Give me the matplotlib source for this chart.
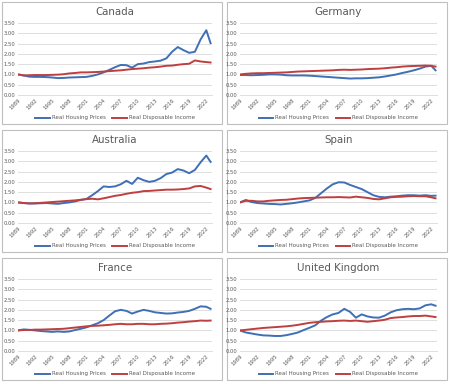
import matplotlib.pyplot as plt
from matplotlib.patches import Rectangle

years = list(range(1989, 2023)) + [2022.75]
tick_years = list(range(1989, 2023, 3))

canada_house = [1.00, 0.95, 0.89, 0.88, 0.88, 0.87, 0.85, 0.82, 0.83, 0.85, 0.86, 0.87, 0.88, 0.93, 1.00, 1.10, 1.22,
                1.35, 1.46, 1.45, 1.33, 1.50, 1.53, 1.60, 1.63, 1.67, 1.78, 2.10, 2.33, 2.18, 2.05, 2.10, 2.70, 3.15, 2.52]
canada_income = [1.00, 0.95, 0.96, 0.97, 0.97, 0.97, 0.98, 0.99, 1.01, 1.05, 1.07, 1.10, 1.10, 1.11, 1.12, 1.14, 1.16,
                 1.18, 1.20, 1.23, 1.26, 1.28, 1.30, 1.33, 1.35, 1.38, 1.42, 1.43, 1.47, 1.50, 1.52, 1.68, 1.63, 1.60, 1.58]

germany_house = [0.97, 0.97, 0.96, 0.97, 0.98, 1.00, 1.00, 0.99, 0.96, 0.95, 0.95, 0.95, 0.94, 0.92, 0.90, 0.88, 0.86,
                 0.84, 0.82, 0.80, 0.81, 0.81, 0.82, 0.84, 0.86, 0.90, 0.95, 1.00, 1.07, 1.13, 1.20, 1.28, 1.38, 1.42, 1.20]
germany_income = [1.00, 1.03, 1.05, 1.06, 1.06, 1.07, 1.08, 1.09, 1.10, 1.12, 1.14, 1.15, 1.16, 1.17, 1.18, 1.19, 1.20,
                  1.22, 1.23, 1.22, 1.23, 1.24, 1.26, 1.27, 1.28, 1.30, 1.33, 1.35, 1.38, 1.40, 1.41, 1.42, 1.43, 1.42, 1.38]

australia_house = [1.00, 0.97, 0.95, 0.95, 0.96, 0.97, 0.95, 0.93, 0.97, 1.00, 1.05, 1.12, 1.17, 1.35, 1.55, 1.78, 1.75,
                   1.78, 1.88, 2.05, 1.90, 2.20, 2.08, 2.00, 2.05, 2.18, 2.38, 2.45, 2.62, 2.55, 2.42, 2.58, 2.95, 3.28, 2.97]
australia_income = [1.00, 0.97, 0.95, 0.96, 0.98, 1.00, 1.02, 1.04, 1.06, 1.08, 1.10, 1.13, 1.16, 1.18, 1.15, 1.20, 1.26,
                    1.32, 1.36, 1.42, 1.47, 1.50, 1.55, 1.56, 1.58, 1.60, 1.62, 1.62, 1.63, 1.65, 1.68, 1.78, 1.80, 1.72,
                    1.65]

spain_house = [1.00, 1.12, 1.02, 0.97, 0.95, 0.93, 0.92, 0.90, 0.93, 0.96, 1.00, 1.05, 1.10, 1.22, 1.45, 1.68, 1.88,
               1.98, 1.97, 1.85, 1.75, 1.65, 1.50, 1.35, 1.27, 1.25, 1.28, 1.30, 1.33, 1.35, 1.35, 1.33, 1.35, 1.32, 1.33]
spain_income = [1.00, 1.08, 1.08, 1.05, 1.05, 1.08, 1.10, 1.12, 1.13, 1.16, 1.19, 1.21, 1.22, 1.23, 1.24, 1.25, 1.25,
                1.26, 1.25, 1.24, 1.28, 1.25, 1.22, 1.17, 1.15, 1.20, 1.25, 1.27, 1.28, 1.30, 1.31, 1.30, 1.30, 1.25, 1.20]

france_house = [1.00, 1.05, 1.03, 1.00, 0.97, 0.95, 0.93, 0.95, 0.93, 0.95, 1.02, 1.08, 1.15, 1.25, 1.35, 1.50, 1.72,
                1.93, 2.00, 1.95, 1.82, 1.92, 2.00, 1.95, 1.88, 1.85, 1.82, 1.83, 1.87, 1.90, 1.95, 2.05, 2.17, 2.15, 2.05]
france_income = [1.00, 1.02, 1.02, 1.04, 1.04, 1.05, 1.06, 1.07, 1.08, 1.11, 1.14, 1.17, 1.20, 1.22, 1.23, 1.25, 1.27,
                 1.30, 1.32, 1.30, 1.30, 1.32, 1.32, 1.30, 1.30, 1.32, 1.33, 1.35, 1.38, 1.40, 1.43, 1.45, 1.48, 1.47, 1.48]

uk_house = [1.00, 0.90, 0.85, 0.80, 0.76, 0.75, 0.73, 0.73, 0.77, 0.83, 0.90, 1.02, 1.13, 1.25, 1.48, 1.65, 1.78,
            1.85, 2.05, 1.90, 1.62, 1.78, 1.68, 1.63, 1.62, 1.72, 1.88, 1.98, 2.03, 2.05, 2.03, 2.07, 2.22, 2.27, 2.20]
uk_income = [1.00, 1.03, 1.06, 1.09, 1.12, 1.14, 1.16, 1.18, 1.20, 1.23, 1.27, 1.32, 1.37, 1.40, 1.42, 1.44, 1.45,
             1.47, 1.48, 1.46, 1.48, 1.45, 1.42, 1.45, 1.48, 1.52, 1.60, 1.63, 1.65, 1.68, 1.70, 1.70, 1.72, 1.68, 1.65]

countries = ['Canada', 'Germany', 'Australia', 'Spain', 'France', 'United Kingdom']
house = [canada_house, germany_house, australia_house, spain_house, france_house, uk_house]
income = [canada_income, germany_income, australia_income, spain_income, france_income, uk_income]

W, H = 450, 384
BLUE = '#3F6FB6'
RED = '#BF3F3F'
GREY = '#595959'

fig = plt.figure(figsize=(W / 100, H / 100), dpi=100)

for i, name in enumerate(countries):
    row, col = divmod(i, 2)
    # panel frame (pixels)
    px0 = 2 if col == 0 else 227
    py0 = 2 + row * 128
    fig.patches.append(Rectangle((px0 / W, 1 - (py0 + 122) / H), 220 / W, 122 / H,
                                 transform=fig.transFigure, facecolor='white',
                                 edgecolor='#bfbfbf', lw=0.8, zorder=-5))
    left = 18 if col == 0 else 240
    right = 212 if col == 0 else 437
    top = 23 + row * 128
    bottom = 95 + row * 128
    ax = fig.add_axes([left / W, 1 - bottom / H, (right - left) / W, (bottom - top) / H])
    ax.set_zorder(2)
    ax.set_facecolor('none')

    ax.plot(years, house[i], color=BLUE, lw=1.4, label='Real Housing Prices')
    ax.plot(years, income[i], color=RED, lw=1.4, label='Real Disposable Income')

    ax.set_xlim(1989, 2023)
    ax.set_ylim(0, 3.5)
    ax.set_yticks([0.5 * k for k in range(8)])
    ax.set_yticklabels([f'{0.5 * k:.2f}' for k in range(8)])
    ax.set_xticks(tick_years)
    ax.set_xticklabels([str(y) for y in tick_years], rotation=45, ha='right', rotation_mode='anchor')
    ax.tick_params(length=0, labelsize=3.8, colors=GREY, pad=2)
    ax.grid(axis='y', color='#d9d9d9', lw=0.6)
    ax.set_axisbelow(True)
    for s in ['top', 'right', 'left']:
        ax.spines[s].set_visible(False)
    ax.spines['bottom'].set_color('#d9d9d9')
    ax.spines['bottom'].set_linewidth(0.6)

    ax.text(0.5, 1 + 11 / 72, name, transform=ax.transAxes, ha='center', va='center',
            fontsize=7.4, color=GREY)
    ax.legend(loc='center', bbox_to_anchor=(0.5, -23 / 72), ncol=2, frameon=False,
              fontsize=4.0, labelcolor=GREY, handlelength=2.6, columnspacing=1.2, handletextpad=0.4)

fig.savefig('out.png', dpi=100)
